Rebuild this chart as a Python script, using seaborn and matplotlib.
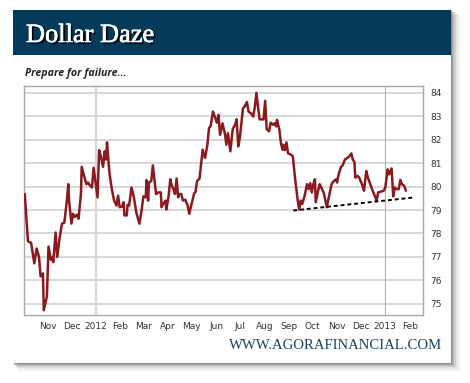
import numpy as np
import pandas as pd
import matplotlib
matplotlib.use("Agg")
import matplotlib.pyplot as plt
import matplotlib.dates as mdates
import matplotlib.patheffects as pe
from matplotlib.patches import Rectangle
import seaborn as sns

# ---- data ----
title = "Dollar Daze"
subtitle = "Prepare for failure..."
footer = "WWW.AGORAFINANCIAL.COM"

# days relative to 2012-01-01
days_from_2012 = [
    -90, -86, -82, -78, -75, -72, -70, -67, -66, -62, -60, -57, -55, -54, -51, -49,
    -46, -43, -40, -37, -35, -34, -31, -29, -27, -24, -22, -19, -18, -15, -12, -10,
    -8, -5, -3, 0, 2, 4, 6, 9, 11, 13, 14, 17, 20, 23, 26, 28, 30, 33, 35, 36, 39,
    40, 42, 45, 48, 51, 55, 58, 60, 63, 64, 66, 67, 70, 72, 74, 76, 79, 82, 83, 85,
    88, 89, 92, 94, 96, 98, 100, 102, 104, 105, 108, 110, 113, 116, 118, 121, 124,
    126, 128, 131, 135, 138, 141, 143, 145, 148, 151, 153, 155, 157, 160, 163, 165,
    167, 170, 173, 176, 178, 180, 182, 186, 188, 191, 193, 196, 199, 201, 203, 205,
    207, 210, 212, 214, 216, 219, 221, 224, 226, 228, 229, 232, 234, 236, 237, 239,
    241, 243, 246, 249, 252, 255, 257, 259, 261, 264, 267, 269, 271, 273, 275, 277,
    278, 281, 283, 286, 288, 292, 295, 298, 301, 304, 305, 307, 310, 312, 315, 318,
    320, 323, 325, 327, 328, 331, 333, 336, 339, 342, 344, 347, 350, 353, 355, 357,
    360, 364, 366, 368, 369, 371, 374, 376, 378, 380, 383, 385, 387, 390, 392,
]
dollar_index = [
    79.68, 77.67, 77.60, 76.73, 77.36, 77.00, 76.17, 76.30, 74.73, 75.33, 77.44, 76.88,
    77.00, 76.78, 78.04, 77.00, 77.79, 78.42, 78.46, 79.33, 80.10, 79.40, 78.42, 78.84,
    78.70, 78.80, 78.63, 79.68, 80.84, 80.45, 80.10, 80.17, 80.06, 79.96, 80.80, 80.03,
    79.54, 81.55, 81.32, 80.84, 81.50, 81.15, 81.88, 80.60, 79.90, 79.40, 79.19, 79.61,
    79.12, 79.15, 79.33, 78.77, 78.77, 79.22, 79.19, 79.96, 79.54, 78.90, 78.42, 79.05,
    79.58, 79.54, 80.28, 79.40, 80.17, 80.24, 80.90, 80.31, 79.68, 79.75, 79.75, 79.12,
    79.26, 79.40, 79.02, 79.61, 80.31, 80.03, 79.89, 79.68, 80.34, 79.54, 79.68, 79.68,
    79.40, 79.44, 79.19, 78.84, 79.26, 79.68, 79.78, 80.24, 80.34, 81.57, 81.22, 81.78,
    82.49, 82.56, 83.19, 82.91, 82.72, 83.05, 82.20, 82.69, 82.27, 81.78, 82.27, 81.50,
    82.44, 82.63, 82.86, 81.71, 82.06, 83.33, 83.40, 83.60, 83.19, 83.12, 82.98, 83.40,
    83.99, 83.40, 82.86, 82.86, 82.86, 83.65, 82.44, 82.35, 82.72, 82.63, 82.69, 82.56,
    82.84, 82.42, 81.85, 81.57, 81.78, 81.55, 81.88, 81.41, 81.37, 81.29, 80.31, 79.47,
    79.02, 79.40, 79.26, 79.61, 80.10, 79.89, 80.14, 79.75, 80.10, 80.31, 79.33, 79.82,
    80.10, 79.89, 79.75, 79.12, 79.61, 80.10, 80.24, 80.31, 80.17, 80.52, 80.84, 80.90,
    81.15, 81.22, 81.26, 81.41, 81.15, 81.04, 80.38, 80.45, 80.38, 80.14, 79.82, 80.66,
    80.38, 80.10, 79.82, 79.58, 79.40, 79.75, 79.78, 79.82, 79.96, 80.45, 80.73, 80.52,
    80.77, 79.58, 79.96, 79.89, 79.89, 80.28, 80.10, 80.03, 79.82,
]
support_days = [249.6, 403.5]
support_values = [78.98, 79.54]
y_ticks = [75, 76, 77, 78, 79, 80, 81, 82, 83, 84]

base = pd.Timestamp("2012-01-01")
df = pd.DataFrame({
    "date": base + pd.to_timedelta(days_from_2012, unit="D"),
    "value": dollar_index,
})
trend = pd.DataFrame({
    "date": base + pd.to_timedelta(support_days, unit="D"),
    "value": support_values,
})

sns.set_theme(style="white")
plt.rcParams["font.family"] = ["DejaVu Sans"]

W, H = 470, 383
fig = plt.figure(figsize=(W / 100, H / 100), dpi=100)
fig.patch.set_facecolor("white")

def fx(px):
    return px / W

def fy(py):
    return 1 - py / H

# card shadow (soft, to the right and below, faint on the left)
for i, a in enumerate([0.16, 0.12, 0.09, 0.07, 0.05, 0.035, 0.022, 0.012]):
    off = 0.5 + i * 1.2
    fig.patches.append(Rectangle((fx(13 + off * 0.6), fy(363 + off)),
                                 fx(438 + off * 0.6), (353 + off * 0.4) / H,
                                 transform=fig.transFigure, facecolor="black",
                                 edgecolor="none", alpha=a, zorder=0))
# card
fig.patches.append(Rectangle((fx(13), fy(363)), fx(438), 353 / H,
                             transform=fig.transFigure, facecolor="white",
                             edgecolor="none", zorder=1))
# header band
fig.patches.append(Rectangle((fx(13), fy(55)), fx(438), 45 / H,
                             transform=fig.transFigure, facecolor="#063a5a",
                             edgecolor="none", zorder=2))

fig.text(fx(26), fy(42), title, color="white", fontsize=19,
         family="Liberation Serif", va="baseline", ha="left", zorder=3,
         path_effects=[pe.withSimplePatchShadow(offset=(1.5, -1.5),
                                                shadow_rgbFace="black", alpha=0.9),
                       pe.withStroke(linewidth=0.4, foreground="white")])
fig.text(fx(25), fy(76), subtitle, color="#222222", fontsize=7.7,
         fontweight="bold", fontstyle="italic", family="Open Sans",
         va="baseline", ha="left", zorder=3)
fig.text(fx(442), fy(349), footer, color="#15456b", fontsize=10.6,
         family="Liberation Serif", va="baseline", ha="right", zorder=3)

ax = fig.add_axes([fx(24), fy(315), fx(399), 229 / H])
ax.set_zorder(5)
ax.set_facecolor("white")

for yv in y_ticks:
    ax.axhline(yv, color="#d2d2d2", lw=1.2, zorder=1)
ax.axvline(pd.Timestamp("2012-01-01"), color="#d8d8d8", lw=1.6, zorder=1)
ax.axvline(pd.Timestamp("2013-01-01"), color="#b0b0b0", lw=0.8, zorder=1)

sns.lineplot(data=df, x="date", y="value", ax=ax, color="#8b1a1f",
             linewidth=1.8, zorder=3)
sns.lineplot(data=trend, x="date", y="value", ax=ax, color="black",
             linewidth=1.4, zorder=4, dashes=False)
ax.lines[-1].set_linestyle((0, (2.0, 1.5)))

ax.set_xlim(base + pd.Timedelta(days=-91), base + pd.Timedelta(days=413.7))
ax.set_ylim(74.53, 84.28)
ax.set_xlabel("")
ax.set_ylabel("")

ax.yaxis.tick_right()
ax.set_yticks(y_ticks)
ax.set_yticklabels([str(v) for v in y_ticks])

ax.xaxis.set_major_locator(mdates.MonthLocator())
def month_fmt(x, pos=None):
    d = mdates.num2date(x)
    return str(d.year) if d.month == 1 else d.strftime("%b")
ax.xaxis.set_major_formatter(plt.FuncFormatter(month_fmt))

ax.tick_params(axis="both", length=0, labelsize=6.5, colors="#333333")
ax.tick_params(axis="x", pad=5)
ax.tick_params(axis="y", pad=5)
for s in ax.spines.values():
    s.set_color("#a8a8a8")
    s.set_linewidth(1.0)
    s.set_visible(True)

fig.savefig("out.png", dpi=100, facecolor="white")
